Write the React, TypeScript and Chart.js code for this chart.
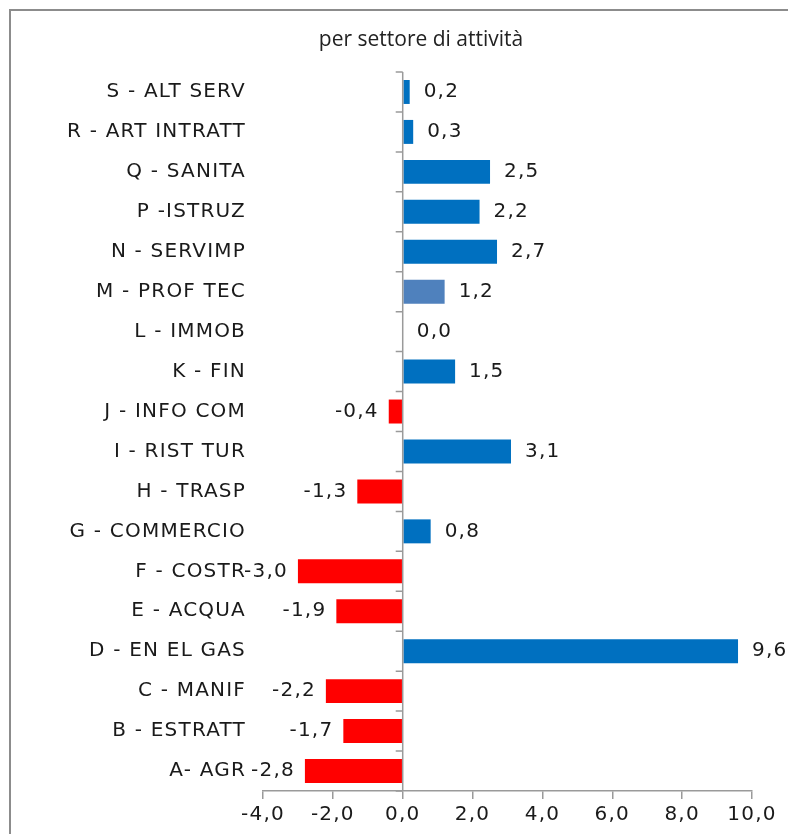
import React, { useEffect, useRef } from "react";
import { Chart, registerables } from "chart.js";

Chart.register(...registerables);

const categories = [
  "S - ALT SERV",
  "R - ART INTRATT",
  "Q - SANITA",
  "P -ISTRUZ",
  "N - SERVIMP",
  "M - PROF TEC",
  "L - IMMOB",
  "K - FIN",
  "J - INFO COM",
  "I - RIST TUR",
  "H - TRASP",
  "G - COMMERCIO",
  "F - COSTR",
  "E - ACQUA",
  "D - EN EL GAS",
  "C - MANIF",
  "B - ESTRATT",
  "A- AGR",
];

const values = [0.2, 0.3, 2.5, 2.2, 2.7, 1.2, 0.0, 1.5, -0.4, 3.1, -1.3, 0.8, -3.0, -1.9, 9.6, -2.2, -1.7, -2.8];

const barColors = [
  "#0070C0", "#0070C0", "#0070C0", "#0070C0", "#0070C0", "#4F81BD", "#0070C0", "#0070C0", "#FF0000",
  "#0070C0", "#FF0000", "#0070C0", "#FF0000", "#FF0000", "#0070C0", "#FF0000", "#FF0000", "#FF0000",
];

const xTicks = [-4, -2, 0, 2, 4, 6, 8, 10];
const title = "per settore di attività";

const fmt = (v: number) => v.toFixed(1).replace(".", ",");

const FONT = "DejaVu Sans";
const FONT_SIZE = 20;
const SPACING = "1.2px";

const spacingPlugin = {
  id: "spacing",
  beforeUpdate(chart: any) {
    chart.ctx.letterSpacing = SPACING;
  },
  beforeDraw(chart: any) {
    chart.ctx.letterSpacing = SPACING;
  },
};

const zeroAxisPlugin = {
  id: "zeroAxis",
  afterDatasetsDraw(chart: any) {
    const { ctx, chartArea, scales } = chart;
    const x0 = scales.x.getPixelForValue(0);
    const n = categories.length;
    const step = (chartArea.bottom - chartArea.top) / n;
    ctx.save();
    ctx.strokeStyle = "#9a9a9a";
    ctx.lineWidth = 1.5;
    ctx.beginPath();
    ctx.moveTo(x0, chartArea.top);
    ctx.lineTo(x0, chartArea.bottom);
    for (let i = 0; i <= n; i++) {
      const y = chartArea.top + i * step;
      ctx.moveTo(x0 - 7, y);
      ctx.lineTo(x0, y);
    }
    ctx.stroke();
    ctx.restore();
  },
};

const dataLabelPlugin = {
  id: "dataLabels",
  afterDatasetsDraw(chart: any) {
    const { ctx } = chart;
    const meta = chart.getDatasetMeta(0);
    ctx.save();
    ctx.letterSpacing = SPACING;
    ctx.font = `${FONT_SIZE}px "${FONT}"`;
    ctx.fillStyle = "#1a1a1a";
    ctx.textBaseline = "middle";
    meta.data.forEach((el: any, i: number) => {
      const v = values[i];
      const txt = fmt(v);
      if (v >= 0) {
        ctx.textAlign = "left";
        ctx.fillText(txt, el.x + 14, el.y);
      } else {
        ctx.textAlign = "right";
        ctx.fillText(txt, el.x - 10, el.y);
      }
    });
    ctx.restore();
  },
};

export default function App() {
  const ref = useRef<HTMLCanvasElement | null>(null);

  useEffect(() => {
    if (!ref.current) return;
    const chart = new Chart(ref.current, {
      type: "bar",
      data: {
        labels: categories,
        datasets: [
          {
            data: values,
            backgroundColor: barColors,
            borderWidth: 0,
            barPercentage: 0.6,
            categoryPercentage: 1,
          },
        ],
      },
      options: {
        indexAxis: "y",
        responsive: false,
        animation: false,
        devicePixelRatio: 1,
        layout: { padding: { left: 0, right: 36, top: 72, bottom: 3 } },
        plugins: {
          legend: { display: false },
          tooltip: { enabled: false },
          title: { display: false },
        },
        scales: {
          x: {
            min: -4,
            max: 10,
            afterBuildTicks: (scale: any) => {
              scale.ticks = xTicks.map((v) => ({ value: v }));
            },
            ticks: {
              callback: (v: any) => fmt(Number(v)),
              color: "#1a1a1a",
              font: { family: FONT, size: FONT_SIZE },
              padding: 4,
              maxRotation: 0,
            },
            grid: {
              display: true,
              drawOnChartArea: false,
              drawTicks: true,
              tickLength: 8,
              color: "#9a9a9a",
              lineWidth: 1.5,
            },
            border: { display: true, color: "#9a9a9a", width: 1.5 },
          },
          y: {
            afterFit: (scale: any) => {
              scale.width = 263;
            },
            ticks: {
              color: "#1a1a1a",
              font: { family: FONT, size: FONT_SIZE },
              padding: 9,
            },
            grid: { display: false },
            border: { display: false },
          },
        },
      },
      plugins: [spacingPlugin, zeroAxisPlugin, dataLabelPlugin],
    } as any);
    return () => chart.destroy();
  }, []);

  return (
    <>
      <div
        style={{
          position: "fixed",
          left: 9,
          top: 9,
          width: 779,
          height: 825,
          boxSizing: "border-box",
          borderTop: "2px solid #8c8c8c",
          borderLeft: "2px solid #8c8c8c",
        }}
      />
      <canvas
        ref={ref}
        width={788}
        height={834}
        style={{ position: "fixed", left: 0, top: 0, width: 788, height: 834 }}
      />
      <div
        style={{
          position: "fixed",
          left: 421,
          top: 26,
          transform: "translateX(-50%)",
          whiteSpace: "nowrap",
          fontFamily: "'Open Sans'",
          fontSize: 21,
          lineHeight: "24px",
          color: "#222",
        }}
      >
        {title}
      </div>
    </>
  );
}
